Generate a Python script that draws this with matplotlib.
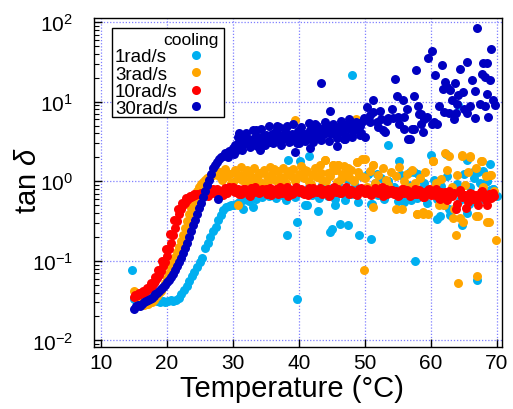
import numpy as np
import matplotlib
matplotlib.use('Agg')
import matplotlib.pyplot as plt
from matplotlib.patches import Rectangle
from matplotlib.ticker import LogLocator, NullFormatter

plt.rcParams['font.family'] = ['Liberation Sans', 'DejaVu Sans']
plt.rcParams['mathtext.fontset'] = 'custom'
plt.rcParams['mathtext.rm'] = 'Liberation Sans'
plt.rcParams['mathtext.it'] = 'Liberation Sans:italic'

# ---- 30 rad/s ----
t30_rise = [15.0, 15.3, 15.6, 15.9, 16.2, 16.5, 16.8, 17.1, 17.4, 17.7,
            18.0, 18.3, 18.6, 18.9, 19.2, 19.5, 19.8, 20.1, 20.4, 20.7,
            21.0, 21.3, 21.6, 21.9, 22.2, 22.5, 22.8, 23.1, 23.4, 23.7,
            24.0, 24.3, 24.6, 24.9, 25.2, 25.5, 25.8, 26.1, 26.4, 26.7,
            27.0, 27.3, 27.6, 27.9, 28.2, 28.5, 28.8, 29.1, 29.4, 29.7]
tan30_rise = [0.025, 0.027, 0.028, 0.027, 0.029, 0.030, 0.031, 0.032, 0.033, 0.034,
              0.036, 0.038, 0.040, 0.042, 0.044, 0.047, 0.050, 0.054, 0.058, 0.063,
              0.069, 0.076, 0.085, 0.096, 0.11, 0.125, 0.145, 0.17, 0.20, 0.235,
              0.28, 0.33, 0.39, 0.46, 0.54, 0.64, 0.76, 0.90, 1.05, 1.25,
              1.45, 1.60, 1.75, 1.90, 2.00, 2.10, 2.25, 2.15, 2.40, 2.30]
t30_band = [30.0, 30.3, 30.6, 30.9, 31.2, 31.5, 31.8, 32.1, 32.4, 32.7,
            33.0, 33.3, 33.6, 33.9, 34.2, 34.5, 34.8, 35.1, 35.4, 35.7,
            36.0, 36.3, 36.6, 36.9, 37.2, 37.5, 37.8, 38.1, 38.4, 38.7,
            39.0, 39.3, 39.6, 39.9, 40.2, 40.5, 40.8, 41.1, 41.4, 41.7,
            42.0, 42.3, 42.6, 42.9, 43.2, 43.5, 43.8, 44.1, 44.4, 44.7,
            45.0, 45.3, 45.6, 45.9, 46.2, 46.5, 46.8, 47.1, 47.4, 47.7,
            48.0, 48.3, 48.6, 48.9, 49.2, 49.5, 49.8, 34.1, 39.4, 41.7,
            29.3, 45.8, 43.4, 44.7, 36.7, 38.2, 40.0, 42.5, 46.8, 48.5,
            27.8, 31.0, 33.5, 37.0,
            30.15, 30.75, 31.35, 31.95, 32.55, 33.15, 33.75, 34.35, 34.95, 35.55,
            36.15, 36.75, 37.35, 37.95, 38.55, 39.15, 39.75, 40.35, 40.95, 41.55,
            42.15, 42.75, 43.35, 43.95, 44.55, 45.15, 45.75, 46.35, 46.95, 47.55,
            48.15, 48.75, 49.35, 49.95]
tan30_band = [2.6, 2.9, 2.5, 3.1, 2.8, 3.3, 3.0, 3.5, 3.2, 2.9,
              3.4, 3.1, 3.7, 3.3, 3.0, 3.6, 3.2, 3.8, 3.4, 3.1,
              3.9, 3.5, 4.2, 3.7, 3.3, 3.8, 3.5, 4.1, 3.6, 3.2,
              3.9, 3.4, 3.7, 4.3, 3.6, 4.0, 3.5, 3.9, 3.7, 4.4,
              3.8, 4.1, 3.6, 4.5, 4.0, 4.6, 3.9, 4.3, 4.8, 4.1,
              4.0, 4.7, 3.9, 4.4, 5.0, 4.2, 4.6, 3.7, 5.2, 4.5,
              5.6, 4.3, 5.0, 4.6, 5.4, 4.0, 5.8, 2.45, 2.34, 2.6,
              2.0, 2.8, 17.4, 7.6, 4.6, 4.9, 3.0, 5.2, 3.4, 4.8,
              0.6, 4.0, 4.4, 4.8,
              2.2, 3.6, 2.5, 4.0, 2.7, 4.4, 2.8, 4.6, 2.9, 4.9,
              3.0, 5.0, 2.9, 4.7, 3.1, 5.2, 3.0, 4.8, 3.2, 5.4,
              3.1, 5.0, 3.3, 5.6, 3.2, 5.3, 3.5, 5.8, 3.4, 6.0,
              3.6, 5.5, 3.8, 6.2]
t30_high = [50.0, 50.4, 50.8, 51.3, 51.3, 52.3, 52.7, 53.1, 53.6, 54.1,
            54.3, 54.6, 54.9, 55.8, 55.9, 56.4, 56.6, 56.9, 57.1, 57.4,
            57.8, 58.1, 58.3, 58.6, 58.8, 59.4, 59.6, 60.2, 60.2, 60.7,
            61.0, 61.2, 61.7, 61.9, 62.2, 62.5, 62.7, 63.0, 63.2, 63.7,
            63.9, 64.2, 64.4, 64.9, 65.5, 65.5, 65.9, 66.2, 66.7, 66.7,
            67.0, 67.7, 68.0, 68.2, 68.2, 68.5, 68.5, 68.7, 69.0, 69.2,
            69.7, 49.3, 51.8, 52.0, 53.4, 55.2, 56.0, 57.5, 59.0, 60.5,
            62.0, 64.0, 65.0, 67.5, 55.0, 50.8, 52.5, 58.5, 63.5, 69.5]
tan30_high = [3.6, 8.6, 6.8, 10.4, 7.5, 7.6, 4.4, 4.2, 6.2, 8.2,
              6.2, 19.2, 11.8, 10.4, 4.6, 8.2, 3.45, 3.4, 4.6, 11.8,
              25.4, 8.9, 7.1, 5.2, 4.2, 6.4, 36.0, 43.0, 5.2, 21.9,
              5.3, 8.9, 28.8, 14.6, 17.5, 15.5, 7.2, 14.0, 10.4, 17.0,
              7.2, 12.3, 25.7, 13.3, 31.8, 7.2, 8.9, 18.7, 13.5, 6.3,
              85.0, 22.6, 30.7, 20.5, 8.9, 12.7, 31.0, 6.5, 19.0, 45.7,
              9.0, 5.0, 5.5, 4.8, 5.8, 5.2, 6.5, 4.5, 6.0, 5.5,
              7.5, 9.5, 8.0, 9.5, 6.5, 5.6, 6.0, 7.0, 6.0, 10.5]

# ---- 10 rad/s ----
t10_rise = [15.0, 15.3, 15.6, 15.9, 16.2, 16.5, 16.8, 17.1, 17.4, 17.7,
            18.0, 18.3, 18.6, 18.9, 19.2, 19.5, 19.8, 20.1, 20.4, 20.7,
            21.0, 21.3, 21.6, 21.9, 22.2, 22.5, 22.8, 23.1, 23.4, 23.7,
            24.0, 24.3, 24.6, 24.9, 25.2, 25.5, 25.8,
            15.15, 15.75, 16.35, 16.95, 17.55, 18.15, 18.75, 19.35, 19.95, 20.55,
            21.15, 21.75, 22.35, 22.95, 23.55, 24.15]
tan10_rise = [0.035, 0.036, 0.037, 0.038, 0.039, 0.040, 0.042, 0.044, 0.046, 0.049,
              0.052, 0.056, 0.061, 0.067, 0.075, 0.085, 0.098, 0.115, 0.14, 0.17,
              0.21, 0.26, 0.32, 0.39, 0.45, 0.50, 0.54, 0.58, 0.61, 0.64,
              0.66, 0.67, 0.69, 0.70, 0.72, 0.71, 0.73,
              0.037, 0.039, 0.042, 0.046, 0.052, 0.062, 0.076, 0.10, 0.14, 0.22,
              0.33, 0.45, 0.54, 0.61, 0.66, 0.69]
t10_band = [26.0, 26.4, 26.8, 27.2, 27.6, 28.0, 28.4, 28.8, 29.2, 29.6,
            30.0, 30.4, 30.8, 31.2, 31.6, 32.0, 32.4, 32.8, 33.2, 33.6,
            34.0, 34.4, 34.8, 35.2, 35.6, 36.0, 36.4, 36.8, 37.2, 37.6,
            38.0, 38.4, 38.8, 39.2, 39.6, 40.0, 40.4, 40.8, 41.2, 41.6,
            42.0, 42.4, 42.8, 43.2, 43.6, 44.0, 44.4, 44.8, 45.2, 45.6,
            46.0, 46.4, 46.8, 47.2, 47.6, 48.0, 48.4, 48.8, 49.2, 49.6,
            50.0, 50.4, 50.8, 51.2, 51.6, 52.0, 52.4, 52.8, 53.2, 53.6,
            54.0, 54.4, 54.8, 55.2, 55.6, 56.0, 56.4, 56.8, 57.2, 57.6,
            58.0, 58.4, 58.8, 59.2, 59.6, 60.0, 60.4, 60.8, 61.2, 61.6,
            62.0, 62.4, 62.8, 63.2, 63.6, 64.0, 64.4, 64.8, 65.2, 65.6,
            66.0, 66.4, 66.8, 67.2, 67.6, 68.0, 68.4, 68.8, 69.2, 69.6,
            26.2, 27.0, 27.8, 28.6, 29.4, 30.2, 31.0, 31.8, 32.6, 33.4,
            34.2, 35.0, 35.8, 36.6, 37.4, 38.2, 39.0, 39.8, 40.6, 41.4,
            42.2, 43.0, 43.8, 44.6, 45.4, 46.2, 47.0, 47.8, 48.6, 49.4,
            50.2, 51.0, 51.8, 52.6, 53.4, 54.2, 55.0, 55.8, 56.6, 57.4,
            58.2, 59.0, 59.8, 60.6, 61.4, 62.2, 63.0, 63.8, 64.6, 65.4,
            66.2, 67.0, 67.8, 68.6, 69.4]
tan10_band = [0.74, 0.70, 0.78, 0.72, 0.80, 0.69, 0.76, 0.82, 0.71, 0.77,
              0.84, 0.73, 0.79, 0.70, 0.81, 0.75, 0.68, 0.83, 0.74, 0.78,
              0.71, 0.80, 0.76, 0.69, 0.82, 0.73, 0.78, 0.70, 0.84, 0.75,
              0.79, 0.66, 0.77, 0.72, 0.85, 0.74, 0.80, 0.69, 0.76, 0.82,
              0.71, 0.78, 0.74, 0.83, 0.70, 0.77, 0.81, 0.68, 0.79, 0.73,
              0.80, 0.72, 0.76, 0.84, 0.70, 0.78, 0.74, 0.67, 0.81, 0.75,
              0.72, 0.79, 0.69, 0.76, 0.82, 0.71, 0.77, 0.66, 0.80, 0.73,
              0.78, 0.70, 0.75, 0.68, 0.81, 0.72, 0.77, 0.65, 0.74, 0.79,
              0.70, 0.76, 0.64, 0.73, 0.78, 0.67, 0.72, 0.80, 0.62, 0.74,
              0.69, 0.58, 0.75, 0.66, 0.71, 0.52, 0.77, 0.63, 0.68, 0.55,
              0.72, 0.60, 0.67, 0.50, 0.74, 0.64, 0.58, 0.70, 0.62, 0.66,
              0.66, 0.81, 0.73, 0.68, 0.86, 0.76, 0.70, 0.79, 0.66, 0.84,
              0.74, 0.79, 0.67, 0.80, 0.72, 0.86, 0.70, 0.78, 0.75, 0.68,
              0.82, 0.73, 0.77, 0.66, 0.85, 0.71, 0.79, 0.74, 0.69, 0.83,
              0.76, 0.68, 0.74, 0.85, 0.70, 0.78, 0.66, 0.80, 0.73, 0.69,
              0.77, 0.63, 0.81, 0.68, 0.60, 0.74, 0.65, 0.45, 0.70, 0.46,
              0.69, 0.60, 0.76, 0.51, 0.71]

# ---- 3 rad/s ----
t3_rise = [15.0, 15.3, 15.6, 15.9, 16.2, 16.5, 16.8, 17.1, 17.4, 17.7,
           18.0, 18.3, 18.6, 18.9, 19.2, 19.5, 19.8, 20.1, 20.4, 20.7,
           21.0, 21.3, 21.6, 21.9, 22.2, 22.5, 22.8, 23.1, 23.4, 23.7,
           24.0, 24.3, 24.6, 24.9, 25.2, 25.5, 25.8, 26.1, 26.4, 26.7,
           27.0, 27.3, 27.6, 27.9]
tan3_rise = [0.042, 0.036, 0.032, 0.030, 0.029, 0.028, 0.029, 0.029, 0.030, 0.030,
             0.032, 0.034, 0.036, 0.039, 0.042, 0.047, 0.053, 0.061, 0.071, 0.084,
             0.098, 0.113, 0.13, 0.15, 0.18, 0.21, 0.26, 0.32, 0.39, 0.46,
             0.55, 0.64, 0.75, 0.84, 0.92, 0.99, 1.05, 1.10, 1.14, 1.17,
             1.20, 1.23, 1.27, 1.18]
t3_band = [28.0, 28.4, 28.8, 29.2, 29.6, 30.0, 30.4, 30.8, 31.2, 31.6,
           32.0, 32.4, 32.8, 33.2, 33.6, 34.0, 34.4, 34.8, 35.2, 35.6,
           36.0, 36.4, 36.8, 37.2, 37.6, 38.0, 38.4, 38.8, 39.2, 39.6,
           40.0, 40.4, 40.8, 41.2, 41.6, 42.0, 42.4, 42.8, 43.2, 43.6,
           44.0, 44.4, 44.8, 45.2, 45.6, 46.0, 46.4, 46.8, 47.2, 47.6,
           48.0, 48.4, 48.8, 49.2, 49.6,
           28.2, 29.0, 29.8, 30.6, 31.4, 32.2, 33.0, 33.8, 34.6, 35.4,
           36.2, 37.0, 37.8, 38.6, 39.4, 40.2, 41.0, 41.8, 42.6, 43.4,
           44.2, 45.0, 45.8, 46.6, 47.4, 48.2, 49.0, 49.8]
tan3_band = [1.30, 1.05, 1.42, 1.15, 1.25, 0.98, 1.38, 1.10, 1.50, 1.20,
             1.02, 1.35, 1.18, 1.45, 1.08, 1.28, 0.95, 1.40, 1.15, 1.52,
             1.22, 1.05, 1.36, 1.12, 1.48, 0.96, 1.30, 1.18, 1.42, 1.06,
             1.25, 1.55, 1.10, 1.33, 0.98, 1.20, 1.45, 1.12, 1.62, 1.03,
             1.84, 1.28, 1.15, 1.60, 1.38, 1.60, 1.08, 1.55, 1.25, 1.12,
             1.40, 1.02, 1.75, 1.20, 1.90,
             1.12, 1.32, 0.94, 1.22, 1.05, 1.40, 0.92, 1.16, 1.30, 1.00,
             1.44, 0.94, 1.14, 1.36, 1.02, 1.21, 1.40, 0.93, 1.17, 1.29,
             1.00, 1.36, 0.97, 1.22, 1.47, 1.05, 1.30, 1.12]
t3_late = [50.0, 50.4, 50.8, 51.2, 51.6, 52.0, 52.4, 52.8, 53.2, 53.6,
           54.0, 54.4, 54.8, 55.2, 55.6, 56.0, 56.4, 56.8, 57.2, 57.6,
           58.0, 58.4, 58.8, 59.2, 59.6, 60.0, 60.4, 60.8, 61.2, 61.6,
           62.0, 62.4, 62.8, 63.2, 63.6, 64.0, 64.4, 64.8, 65.2, 65.6,
           66.0, 66.4, 66.8, 67.2, 67.6, 68.0, 68.4, 68.8, 69.2, 69.6,
           30.8, 39.4, 48.7, 49.9, 64.2, 67.0, 63.8, 69.9, 68.5, 62.1,
           64.7, 66.0, 54.8, 51.3, 57.9, 58.9, 63.4, 64.9, 66.9, 67.7,
           69.0, 44.0, 45.2, 46.0, 48.8, 50.0, 51.3, 60.4]
tan3_late = [1.10, 0.85, 1.35, 1.60, 0.95, 1.20, 0.80, 1.45, 1.05, 0.90,
             1.30, 0.75, 1.15, 1.50, 0.45, 1.00, 1.25, 0.85, 1.40, 0.95,
             0.39, 1.10, 0.41, 1.30, 0.39, 0.80, 1.78, 0.95, 0.50, 1.08,
             0.50, 1.37, 2.06, 0.85, 0.45, 1.20, 0.35, 2.17, 0.90, 1.30,
             2.00, 0.60, 1.45, 0.37, 1.78, 0.85, 1.15, 0.31, 1.19, 0.75,
             0.50, 5.9, 6.1, 0.076, 0.053, 0.065, 0.21, 0.185, 0.31, 2.3,
             2.1, 2.06, 0.45, 0.48, 0.39, 0.39, 0.35, 0.31, 0.37, 1.78,
             1.19, 1.84, 1.60, 1.60, 1.75, 1.90, 1.60, 1.78]

# ---- 1 rad/s ----
t1_rise = [14.7, 15.0, 15.4, 15.8, 16.2, 16.6, 17.0, 17.4, 17.8, 18.2,
           18.6, 19.0, 19.4, 19.8, 20.2, 20.6, 21.0, 21.4, 21.8, 22.2,
           22.6, 23.0, 23.4, 23.8, 24.2, 24.6, 25.0, 25.4, 25.8, 26.2,
           26.6, 27.0, 27.4, 27.8, 28.2, 28.6, 29.0, 29.4, 29.8, 30.2]
tan1_rise = [0.077, 0.033, 0.034, 0.036, 0.038, 0.040, 0.038, 0.035, 0.033, 0.032,
             0.031, 0.030, 0.031, 0.030, 0.031, 0.032, 0.031, 0.032, 0.034, 0.038,
             0.043, 0.049, 0.056, 0.064, 0.073, 0.084, 0.097, 0.11, 0.145, 0.17,
             0.20, 0.235, 0.27, 0.33, 0.38, 0.44, 0.47, 0.49, 0.50, 0.51]
t1_band = [30.5, 31.0, 31.5, 32.0, 32.5, 33.0, 33.5, 34.0, 34.5, 35.0,
           35.5, 36.0, 36.5, 37.0, 37.5, 38.0, 38.5, 39.0, 39.5, 40.0,
           40.5, 41.0, 41.5, 42.0, 42.5, 43.0, 43.5, 44.0, 44.5, 45.0,
           45.5, 46.0, 46.5, 47.0, 47.5, 48.0, 48.5, 49.0, 49.5, 50.0,
           50.5, 51.0, 51.5, 52.0, 52.5, 53.0, 53.5, 54.0, 54.5, 55.0,
           55.5, 56.0, 56.5, 57.0, 57.5, 58.0, 58.5, 59.0, 59.5, 60.0,
           60.5, 61.0, 61.5, 62.0, 62.5, 63.0, 63.5, 64.0, 64.5, 65.0,
           65.5, 66.0, 66.5, 67.0, 67.5, 68.0, 68.5, 69.0, 69.5, 70.0]
tan1_band = [0.52, 0.55, 0.58, 0.62, 0.57, 0.64, 0.60, 0.68, 0.63, 0.70,
             0.66, 0.72, 0.61, 0.75, 0.68, 0.58, 0.80, 0.70, 0.64, 0.78,
             0.72, 0.50, 0.85, 0.68, 0.76, 0.62, 0.90, 0.71, 0.66, 0.82,
             0.60, 0.95, 0.74, 0.58, 1.05, 0.70, 0.88, 0.55, 1.15, 0.75,
             1.25, 0.52, 0.95, 0.68, 1.10, 0.60, 1.00, 0.72, 0.85, 0.56,
             1.20, 0.66, 0.90, 0.58, 1.30, 0.62, 0.80, 0.95, 0.54, 0.70,
             1.05, 0.60, 0.88, 0.50, 1.15, 0.65, 0.45, 0.92, 0.58, 1.25,
             0.40, 0.85, 1.10, 0.55, 0.95, 0.60, 1.00, 0.78, 0.81, 0.65]
t1_out = [38.2, 39.7, 39.7, 38.4, 40.2, 41.6, 44.7, 45.0, 46.3, 47.5,
          49.1, 50.9, 48.1, 53.5, 55.2, 57.6, 60.0, 64.2, 62.3, 65.5,
          67.0, 64.7, 60.9, 61.4, 69.0, 66.4, 67.2, 56.9, 58.1, 51.8,
          50.5, 53.6, 55.9, 41.2, 42.9, 45.5, 51.1, 31.5, 33.0, 62.8,
          63.0, 68.0, 69.5, 68.5, 65.8, 69.4]
tan1_out = [0.21, 0.31, 0.033, 1.84, 1.78, 2.1, 0.23, 0.25, 0.29, 0.28,
            0.21, 0.19, 21.6, 2.9, 1.8, 0.10, 2.17, 9.0, 2.2, 1.84,
            0.057, 0.28, 0.34, 0.37, 1.67, 1.3, 1.3, 1.3, 1.25, 1.25,
            1.25, 1.0, 0.55, 0.50, 0.42, 0.50, 0.52, 0.45, 0.48, 0.45,
            0.38, 1.34, 0.81, 1.0, 0.52, 0.75]

labels = ['1rad/s', '3rad/s', '10rad/s', '30rad/s']
colors = ['#00AFF0', '#FFA500', '#FF0000', '#0000C0']
temps = [t1_rise + t1_band + t1_out,
         t3_rise + t3_band + t3_late,
         t10_rise + t10_band,
         t30_rise + t30_band + t30_high]
tans = [tan1_rise + tan1_band + tan1_out,
        tan3_rise + tan3_band + tan3_late,
        tan10_rise + tan10_band,
        tan30_rise + tan30_band + tan30_high]

fig = plt.figure(figsize=(5.13, 4.10), dpi=100)
ax = fig.add_axes([0.1832, 0.1512, 0.7953, 0.8024])

for lab, c, t, v in zip(labels, colors, temps, tans):
    ax.scatter(np.array(t), np.array(v), s=42, color=c, linewidths=0, label=lab)

ax.set_yscale('log')
ax.set_xlim(8.98, 70.8)
ax.set_ylim(0.00826, 113)
ax.set_xticks([10, 20, 30, 40, 50, 60, 70])
ax.yaxis.set_major_locator(LogLocator(base=10, numticks=10))
ax.yaxis.set_minor_locator(LogLocator(base=10, subs=np.arange(2, 10), numticks=20))
ax.yaxis.set_minor_formatter(NullFormatter())

ax.grid(True, which='major', color='#7f7fff', linestyle=(0, (1, 1.5)), linewidth=0.9)
ax.set_axisbelow(True)

ax.tick_params(which='both', direction='in', top=False, right=False, colors='black')
ax.tick_params(which='major', length=6, width=1, labelsize=15)
ax.tick_params(axis='y', which='major', pad=15)
ax.tick_params(axis='x', which='major', pad=4)
ax.tick_params(which='minor', length=3.5, width=0.8)
for sp in ax.spines.values():
    sp.set_linewidth(1.0)

ax.set_xlabel('Temperature (°C)', fontsize=21)
ax.set_ylabel(r'tan $\delta$', fontsize=21)
ax.xaxis.set_label_coords(0.486, -0.082)
ax.yaxis.set_label_coords(-0.127, 0.51)

# legend box: title right-aligned, names left-aligned, dots in one column
box_x0, box_y0, box_w, box_h = 0.0434, 0.6982, 0.276, 0.2705
ax.add_patch(Rectangle((box_x0, box_y0), box_w, box_h, transform=ax.transAxes,
                       facecolor='white', edgecolor='black', linewidth=1.0, zorder=5))
ax.text(0.306, 0.939, 'cooling', transform=ax.transAxes, ha='right',
        va='center_baseline', fontsize=12.5, zorder=6)
row_y = [0.888, 0.835, 0.782, 0.732]
for lab, c, yy in zip(labels, colors, row_y):
    ax.text(0.0515, yy, lab, transform=ax.transAxes, ha='left',
            va='center_baseline', fontsize=13.5, zorder=6)
    ax.plot([0.2493], [yy], 'o', ms=6.5, color=c, mec='none',
            transform=ax.transAxes, zorder=6, clip_on=False)

fig.savefig('out.png', dpi=100)
